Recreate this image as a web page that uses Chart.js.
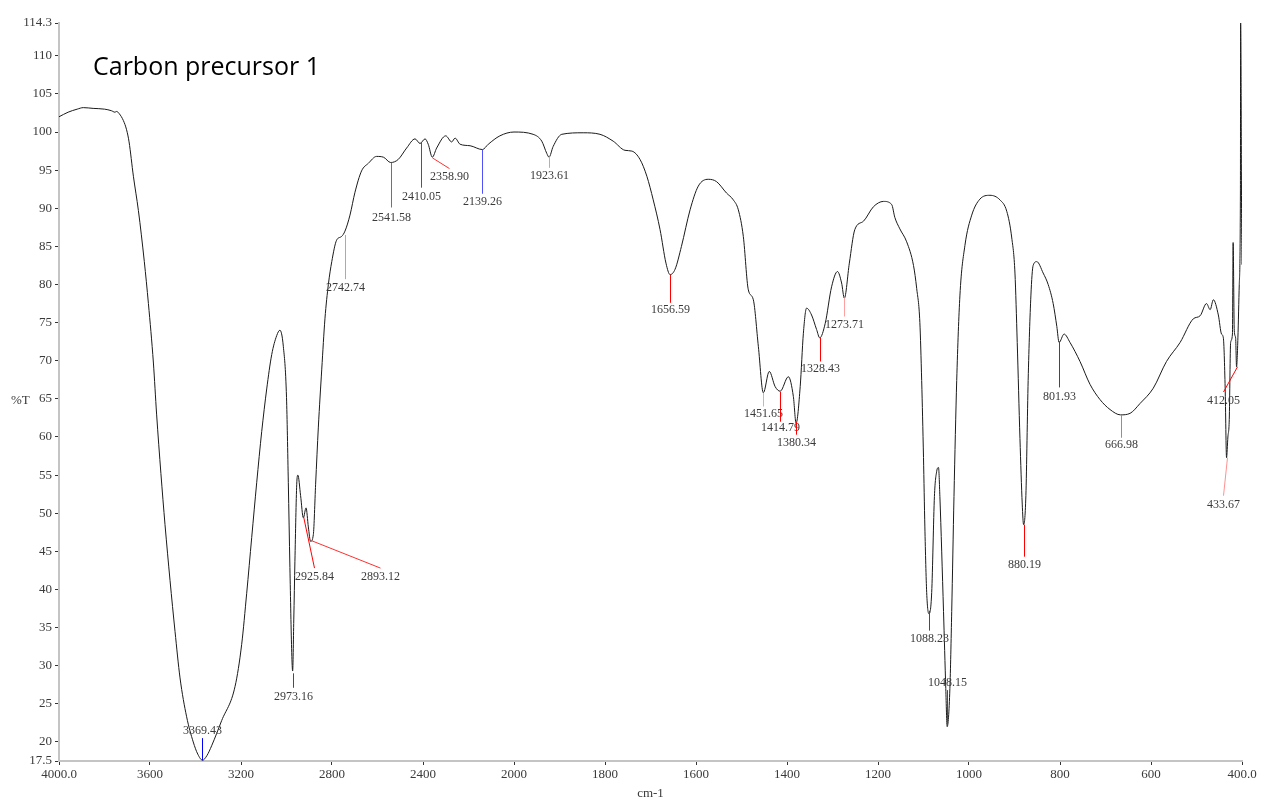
<!DOCTYPE html>
<html lang="en">
<head>
<meta charset="UTF-8">
<title>Carbon precursor 1</title>
<script src="https://cdn.jsdelivr.net/npm/chart.js"></script>
<style>
  body { margin: 0; background: #fff; }
</style>
</head>
<body>
<canvas id="irChart" width="1264" height="803"></canvas>
<script>
// spectrum: wavenumber (cm-1) and %T
const wavenumbers = [
  4000, 3960, 3920, 3893, 3850, 3800, 3770, 3754, 3747, 3735, 3717, 3703, 3692, 3673, 3651,
  3625, 3607, 3585, 3571, 3552, 3534, 3512, 3490, 3468, 3439, 3410, 3390, 3369, 3350, 3329,
  3285, 3226, 3197, 3175, 3153, 3131, 3109, 3087, 3065, 3043, 3029, 3014, 3000, 2992, 2985,
  2977, 2973, 2968, 2963, 2955, 2950, 2938, 2926, 2914, 2904, 2894, 2882, 2872, 2860, 2845,
  2831, 2816, 2801, 2780, 2758, 2743, 2721, 2699, 2670, 2640, 2604, 2574, 2542, 2509, 2472,
  2435, 2413, 2391, 2377, 2359, 2340, 2300, 2274, 2259, 2237, 2193, 2139, 2113, 2062, 2000,
  1958, 1939, 1928, 1923, 1914, 1895, 1848, 1811, 1782, 1756, 1741, 1723, 1708, 1694, 1679,
  1666, 1657, 1646, 1632, 1613, 1595, 1573, 1555, 1533, 1518, 1507, 1496, 1485, 1474, 1463,
  1452, 1439, 1426, 1415, 1397, 1386, 1380, 1371, 1364, 1357, 1346, 1335, 1328, 1316, 1302,
  1289, 1280, 1274, 1263, 1251, 1232, 1210, 1188, 1170, 1163, 1152, 1137, 1122, 1115, 1108,
  1104, 1100, 1097, 1093, 1088, 1082, 1076, 1071, 1067, 1064, 1056, 1051, 1048, 1042, 1038,
  1033, 1027, 1020, 1009, 994, 976, 954, 932, 917, 906, 899, 894, 888, 883, 880,
  875, 870, 864, 859, 851, 837, 826, 815, 807, 802, 791, 778, 756, 734, 712,
  690, 667, 646, 624, 595, 566, 536, 507, 492, 478, 470, 463, 452, 445, 441,
  437, 434, 431, 428, 425, 421, 419.5, 417, 414, 412, 409, 406, 403.5, 403, 402,
  401, 400
];
const transmittance = [
  102.0, 102.6, 103.0, 103.2, 103.1, 103.0, 102.8, 102.6, 102.7, 102.4, 101.5, 100.3, 98.7, 94.2, 89.7,
  83.0, 77.5, 69.7, 63.0, 55.2, 48.5, 41.2, 34.5, 28.4, 23.3, 20.0, 18.4, 17.6, 18.2, 19.5,
  22.8, 27.3, 32.8, 39.5, 46.8, 54.0, 60.7, 66.3, 70.8, 73.3, 74.0, 71.9, 65.2, 54.0, 42.9,
  31.7, 29.3, 36.0, 43.7, 53.8, 55.0, 52.3, 49.4, 50.7, 48.2, 46.3, 47.2, 53.8, 61.3, 68.9,
  75.5, 80.0, 83.0, 85.8, 86.3, 87.0, 89.1, 92.1, 94.9, 95.9, 96.8, 96.7, 96.0, 96.4, 97.9,
  99.1, 98.5, 99.1, 98.4, 96.7, 97.9, 99.5, 98.7, 99.2, 98.4, 98.2, 97.7, 98.4, 99.5, 100.0,
  99.7, 98.8, 97.2, 96.7, 98.1, 99.7, 99.9, 99.7, 98.8, 97.6, 97.5, 96.4, 94.2, 91.1, 87.2,
  82.8, 81.3, 82.0, 85.0, 89.8, 92.9, 93.8, 93.5, 92.0, 91.1, 89.8, 86.3, 79.3, 78.0, 71.9,
  65.8, 68.6, 66.6, 66.0, 67.9, 65.3, 61.8, 66.6, 73.6, 76.9, 76.0, 74.1, 73.0, 74.9, 79.7,
  81.7, 80.2, 78.2, 82.8, 87.2, 88.3, 90.2, 90.9, 90.5, 88.8, 87.3, 85.6, 82.5, 79.5, 75.0,
  67.4, 57.3, 48.2, 39.6, 36.8, 39.6, 52.2, 55.5, 56.0, 52.2, 37.1, 27.0, 22.0, 27.0, 37.1,
  52.2, 67.4, 78.5, 85.1, 89.1, 91.2, 91.7, 91.1, 89.6, 86.1, 81.5, 72.4, 59.8, 51.2, 48.5,
  52.3, 67.4, 78.5, 82.5, 83.0, 81.5, 80.0, 77.5, 74.5, 72.4, 73.5, 72.4, 69.9, 66.9, 64.9,
  63.6, 62.9, 63.1, 64.4, 66.4, 69.9, 72.4, 75.5, 75.9, 77.5, 76.7, 78.0, 76.0, 73.5, 73.0,
  66.4, 57.3, 60.0, 62.3, 72.4, 73.5, 85.5, 74.0, 73.0, 69.2, 73.0, 80.0, 92.0, 114.3, 106.5,
  90.0, 82.6
];

const xTicks = [4000, 3600, 3200, 2800, 2400, 2000, 1800, 1600, 1400, 1200, 1000, 800, 600, 400];
const yTicks = [17.5, 20, 25, 30, 35, 40, 45, 50, 55, 60, 65, 70, 75, 80, 85, 90, 95, 100, 105, 110, 114.3];

// picked peaks
const peakWn = [3369.43, 2973.16, 2925.84, 2893.12, 2742.74, 2541.58, 2410.05, 2358.90, 2139.26,
  1923.61, 1656.59, 1451.65, 1414.79, 1380.34, 1328.43, 1273.71, 1088.23, 1048.15, 880.19,
  801.93, 666.98, 412.05, 433.67];
const peakColors = ['#0000ff', '#ff0000', '#ff0000', '#ff3030', '#a0a0ff', '#6060ff', '#4040ff', '#ff3030', '#5050ff',
  '#ff9090', '#ff0000', '#ffa0a0', '#ff0000', '#ff0000', '#ff0000', '#ffa0a0', '#ff0000', '#ff0000', '#ff0000',
  '#3030ff', '#ff6060', '#ff0000', '#ff9090'];
// leader lines: [text wavenumber, %T where the line starts, %T where it ends, %T of the text]
const peakLeaders = [
  [3369.43, 17.6, 20.5, 21.4], [2973.16, 29.0, 27.1, 25.9], [2879, 49.6, 42.8, 41.6],
  [2590, 46.4, 42.8, 41.6], [2742.74, 86.5, 80.7, 79.6], [2541.58, 96.0, 90.1, 88.8],
  [2410.05, 98.6, 92.7, 91.5], [2286, 96.6, 95.2, 94.1], [2139.26, 97.7, 91.9, 90.9],
  [1923.61, 96.8, 95.3, 94.3], [1656.59, 81.3, 77.6, 76.7], [1451.65, 65.8, 64.0, 63.0],
  [1414.79, 65.9, 62.0, 61.2], [1380.34, 62.0, 60.3, 59.2], [1328.43, 73.0, 69.9, 68.9],
  [1273.71, 78.3, 75.8, 74.7], [1088.23, 37.2, 34.6, 33.5], [1048.15, 22.2, 26.8, 27.7],
  [880.19, 48.5, 44.3, 43.2], [801.93, 72.5, 66.5, 65.3], [666.98, 62.9, 59.9, 59.0],
  [441.8, 69.2, 65.9, 64.7], [441.8, 57.3, 52.3, 51.1]
];

// the axis is expanded 2x below 2000 cm-1
function toAxis(wn) { return wn > 2000 ? 2000 + (wn - 2000) / 2 : wn; }
function fromAxis(u) { return u > 2000 ? 2000 + (u - 2000) * 2 : u; }

const serif = '"Liberation Serif", "Times New Roman", serif';

const peakPlugin = {
  id: 'peaks',
  afterDatasetsDraw(chart) {
    const ctx = chart.ctx;
    const xs = chart.scales.x, ys = chart.scales.y;
    ctx.save();
    ctx.lineWidth = 1;
    ctx.font = '12px ' + serif;
    ctx.textAlign = 'center';
    ctx.textBaseline = 'middle';
    peakWn.forEach((wn, i) => {
      const [labWn, t0, t1, tText] = peakLeaders[i];
      const x0 = Math.round(xs.getPixelForValue(toAxis(wn))) + 0.5;
      const x1 = Math.round(xs.getPixelForValue(toAxis(labWn))) + 0.5;
      ctx.strokeStyle = peakColors[i];
      ctx.beginPath();
      ctx.moveTo(x0, ys.getPixelForValue(t0));
      ctx.lineTo(x1, ys.getPixelForValue(t1));
      ctx.stroke();
      ctx.fillStyle = '#3a3a3a';
      ctx.fillText(wn.toFixed(2), x1, ys.getPixelForValue(tText));
    });
    ctx.restore();
  }
};

const textPlugin = {
  id: 'texts',
  afterDraw(chart) {
    const ctx = chart.ctx;
    ctx.save();
    ctx.fillStyle = '#000';
    ctx.textBaseline = 'middle';
    ctx.textAlign = 'left';
    ctx.font = '25px "Open Sans", sans-serif';
    ctx.fillText('Carbon precursor 1', 93, 68);
    ctx.fillStyle = '#3a3a3a';
    ctx.font = '13px ' + serif;
    ctx.fillText('%T', 11, 401);
    ctx.restore();
  }
};

new Chart(document.getElementById('irChart'), {
  type: 'line',
  data: {
    datasets: [{
      data: wavenumbers.map((w, i) => ({ x: toAxis(w), y: transmittance[i] })),
      borderColor: '#1a1a1a',
      borderWidth: 1,
      pointRadius: 0,
      cubicInterpolationMode: 'monotone',
      fill: false
    }]
  },
  options: {
    responsive: false,
    animation: false,
    layout: { padding: { top: 23, right: 22, left: 0, bottom: 0 } },
    plugins: { legend: { display: false }, tooltip: { enabled: false } },
    scales: {
      x: {
        type: 'linear',
        reverse: true,
        min: 400,
        max: 3000,
        afterBuildTicks: s => { s.ticks = xTicks.map(w => ({ value: toAxis(w) })); },
        afterFit: s => { s.height = 42; },
        ticks: {
          autoSkip: false,
          maxRotation: 0,
          padding: 2,
          color: '#3a3a3a',
          font: { family: serif, size: 13 },
          callback: v => {
            const w = Math.round(fromAxis(v));
            return (w === 4000 || w === 400) ? w.toFixed(1) : String(w);
          }
        },
        grid: { drawOnChartArea: false, drawTicks: true, tickLength: 4, color: '#333' },
        border: { color: '#c4c4c4', width: 2 },
        title: { display: true, text: 'cm-1', color: '#3a3a3a', font: { family: serif, size: 13 }, padding: 2 }
      },
      y: {
        min: 17.5,
        max: 114.3,
        afterBuildTicks: s => { s.ticks = yTicks.map(v => ({ value: v })); },
        afterFit: s => { s.width = 59; },
        ticks: {
          autoSkip: false,
          padding: 3,
          color: '#3a3a3a',
          font: { family: serif, size: 13 },
          callback: v => String(v)
        },
        grid: { drawOnChartArea: false, drawTicks: true, tickLength: 4, color: '#333' },
        border: { color: '#c4c4c4', width: 2 }
      }
    }
  },
  plugins: [peakPlugin, textPlugin]
});
</script>
</body>
</html>
